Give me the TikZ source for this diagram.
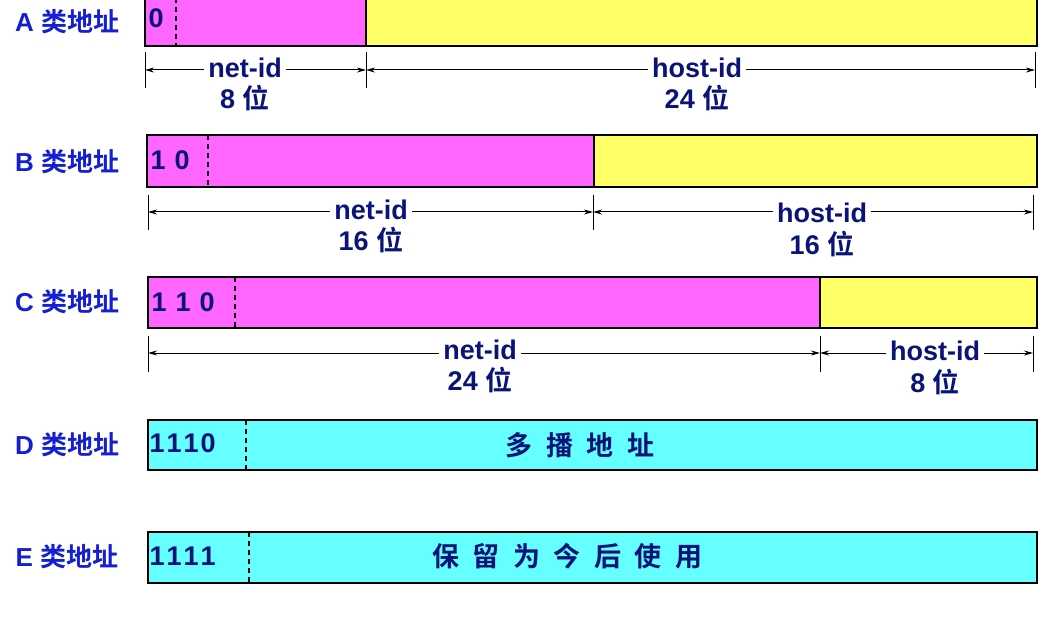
\documentclass[tikz,border=0pt]{standalone}
\usepackage{fontspec}
\setmainfont{Liberation Sans}
\newfontfamily\cjk{Noto Sans CJK SC}[BoldFont={Noto Sans CJK SC Bold}]
\usetikzlibrary{arrows.meta}
\definecolor{pinkc}{RGB}{255,102,255}
\definecolor{yelc}{RGB}{255,255,102}
\definecolor{cyanc}{RGB}{102,255,255}
\definecolor{lblue}{RGB}{20,30,210}
\definecolor{navy}{RGB}{10,20,120}
\begin{document}
\begin{tikzpicture}[x=1pt,y=-1pt,
  box/.style={draw=black,line width=2.5pt},
  dsh/.style={dash pattern=on 5pt off 4pt,line width=1.6pt},
  cls/.style={font=\bfseries\fontsize{26}{26}\selectfont,text=lblue},
  inb/.style={font=\bfseries\fontsize{27}{27}\selectfont,text=navy,anchor=west},
  lab/.style={font=\bfseries\fontsize{27}{27}\selectfont,text=navy,fill=white,inner sep=4pt},
  dim/.style={{Stealth[length=9pt,width=5pt]}-{Stealth[length=9pt,width=5pt]},line width=1pt},
  tick/.style={line width=1pt}]
\useasboundingbox (0,0) rectangle (1049,628);
% A
\fill[pinkc] (145,-2) rectangle (366,46);
\fill[yelc] (366,-2) rectangle (1037,46);
\draw[box] (145,-2) rectangle (1037,46);
\draw[line width=1.5pt] (366,-2) -- (366,46);
\draw[dsh] (176,-2) -- (176,46);
\node[inb] (a0) at (145,18) {0};
\node[cls] (la) at (67,22) {A {\cjk\bfseries 类地址}};
\foreach \x in {145,366,1035} \draw[tick] (\x,52) -- (\x,88);
\coordinate (a1) at (145,70); \coordinate (a2) at (366,70); \coordinate (a3) at (1035,70);
\draw[dim] (a1) -- (a2); \draw[dim] (a2) -- (a3);
\node[lab] (an) at (245,68) {net-id};
\node[lab] (ab) at (245,98) {8 {\cjk\bfseries 位}};
\node[lab] (ah) at (697,68) {host-id};
\node[lab] (ahb) at (697,98) {24 {\cjk\bfseries 位}};
% B
\fill[pinkc] (147,135) rectangle (594,187);
\fill[yelc] (594,135) rectangle (1037,187);
\draw[box] (147,135) rectangle (1037,187);
\draw[line width=1.5pt] (594,135) -- (594,187);
\draw[dsh] (208,135) -- (208,187);
\node[inb] (b0) at (147,160) {1\,\,0};
\node[cls] (lb) at (67,162) {B {\cjk\bfseries 类地址}};
\foreach \x in {148,593,1033} \draw[tick] (\x,195) -- (\x,230);
\coordinate (b1) at (148,212); \coordinate (b2) at (593,212); \coordinate (b3) at (1033,212);
\draw[dim] (b1) -- (b2); \draw[dim] (b2) -- (b3);
\node[lab] (bn) at (371,210) {net-id};
\node[lab] (bb) at (371,240) {16 {\cjk\bfseries 位}};
\node[lab] (bh) at (822,213) {host-id};
\node[lab] (bhb) at (822,244) {16 {\cjk\bfseries 位}};
% C
\fill[pinkc] (148,277) rectangle (820,328);
\fill[yelc] (820,277) rectangle (1037,328);
\draw[box] (148,277) rectangle (1037,328);
\draw[line width=1.5pt] (820,277) -- (820,328);
\draw[dsh] (235,277) -- (235,328);
\node[inb] (c0) at (148,302) {1\,\,1\,\,0};
\node[cls] (lc) at (67,302) {C {\cjk\bfseries 类地址}};
\foreach \x in {148,820,1033} \draw[tick] (\x,336) -- (\x,372);
\coordinate (c1) at (148,353); \coordinate (c2) at (820,353); \coordinate (c3) at (1033,353);
\draw[dim] (c1) -- (c2); \draw[dim] (c2) -- (c3);
\node[lab] (cn) at (480,350) {net-id};
\node[lab] (cb) at (480,380) {24 {\cjk\bfseries 位}};
\node[lab] (ch) at (935,351) {host-id};
\node[lab] (chb) at (935,382) {8 {\cjk\bfseries 位}};
% D
\fill[cyanc] (148,420) rectangle (1037,470);
\draw[box] (148,420) rectangle (1037,470);
\draw[dsh] (246,420) -- (246,470);
\node[inb] (d0) at (146,443) {1\kern2pt1\kern2pt1\kern2pt0};
\node[cls] (ld) at (67,445) {D {\cjk\bfseries 类地址}};
\node[inb,anchor=center] (dt) at (580,445) {\cjk\bfseries 多\enspace 播\enspace 地\enspace 址};
% E
\fill[cyanc] (148,532) rectangle (1037,583);
\draw[box] (148,532) rectangle (1037,583);
\draw[dsh] (249,532) -- (249,583);
\node[inb] (e0) at (146,556) {1\kern2pt1\kern2pt1\kern2pt1};
\node[cls] (le) at (67,557) {E {\cjk\bfseries 类地址}};
\node[inb,anchor=center] (et) at (567,556) {\cjk\bfseries 保\enspace 留\enspace 为\enspace 今\enspace 后\enspace 使\enspace 用};
\end{tikzpicture}
\end{document}
